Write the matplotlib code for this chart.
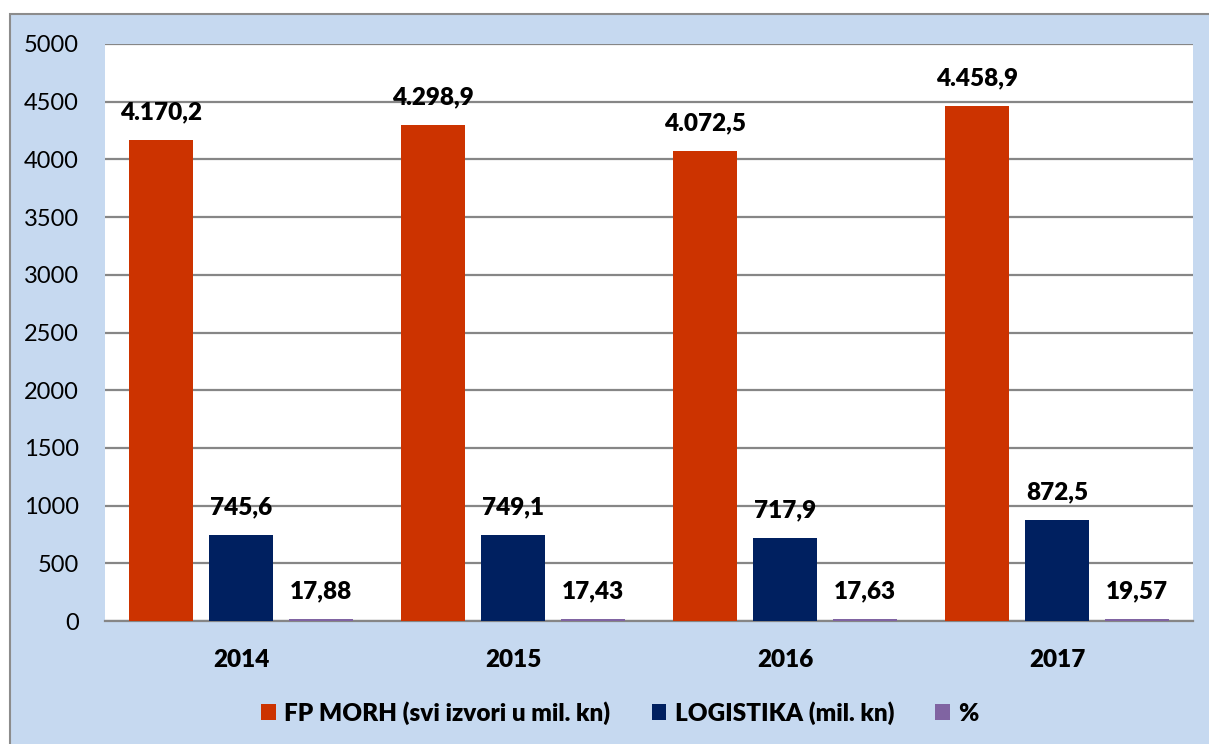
"""Grouped bar chart: FP MORH vs LOGISTIKA budget by year."""

import matplotlib

matplotlib.use("Agg")
import matplotlib.pyplot as plt
from matplotlib.patches import Rectangle
import numpy as np

plt.rcParams["font.family"] = ["Lato", "DejaVu Sans"]

years = ["2014", "2015", "2016", "2017"]
fp_morh = [4170.2, 4298.9, 4072.5, 4458.9]
logistika = [745.6, 749.1, 717.9, 872.5]
postotak = [17.88, 17.43, 17.63, 19.57]

fp_labels = ["4.170,2", "4.298,9", "4.072,5", "4.458,9"]
log_labels = ["745,6", "749,1", "717,9", "872,5"]
pct_labels = ["17,88", "17,43", "17,63", "19,57"]

series_names = ["FP MORH (svi izvori u mil. kn)", "LOGISTIKA (mil. kn)", "%"]
colors = ["#CC3300", "#002060", "#8064A2"]
y_ticks = [0, 500, 1000, 1500, 2000, 2500, 3000, 3500, 4000, 4500, 5000]

BOLD = 800  # Lato ExtraBold, closer to Calibri Bold

W, H = 1209, 744
fig = plt.figure(figsize=(W / 100, H / 100), dpi=100)
fig.patch.set_facecolor("white")

# chart area background with grey frame (runs off right/bottom edge)
fig.add_artist(Rectangle((10 / W, -0.05), 1.05, 1 - 14 / H + 0.05,
                         transform=fig.transFigure, facecolor="#C6D9F0",
                         edgecolor="#8C8C8C", linewidth=1.5, zorder=-10))

ax = fig.add_axes([105 / W, 1 - 621 / H, (1193 - 105) / W, (621 - 44) / H])
ax.set_facecolor("white")

x = np.arange(len(years))
bw = 0.235
step = 0.294
groups = [(fp_morh, fp_labels), (logistika, log_labels), (postotak, pct_labels)]
for k, ((vals, labs), name, col) in enumerate(zip(groups, series_names, colors)):
    pos = x + (k - 1) * step
    bars = ax.bar(pos, vals, width=bw, color=col, label=name, zorder=3)
    for b, lab in zip(bars, labs):
        ax.annotate(lab, (b.get_x() + b.get_width() / 2, b.get_height()),
                    xytext=(0, 12), textcoords="offset points",
                    ha="center", va="bottom", fontsize=17.5, fontweight=BOLD,
                    color="black")

ax.set_xlim(-0.5, len(years) - 0.5)
ax.set_ylim(0, 5000)
ax.set_yticks(y_ticks)
ax.set_yticklabels([str(t) for t in y_ticks], fontsize=17)
ax.set_xticks(x)
ax.set_xticklabels(years, fontsize=17.5, fontweight=BOLD)
ax.tick_params(axis="both", length=0)
ax.tick_params(axis="y", pad=19)
ax.tick_params(axis="x", pad=20)
ax.grid(axis="y", color="#868686", linewidth=1.6, zorder=0)
ax.set_axisbelow(True)
for s in ["left", "right", "top"]:
    ax.spines[s].set_visible(False)
ax.spines["bottom"].set_color("#868686")
ax.spines["bottom"].set_linewidth(1.6)

handles, labels = ax.get_legend_handles_labels()
leg = fig.legend(handles, labels, loc="center", bbox_to_anchor=(620 / W, 1 - 713 / H),
                 ncol=3, frameon=False, prop={"size": 17.5, "weight": BOLD},
                 handlelength=0.6, handleheight=0.6, handletextpad=0.35,
                 columnspacing=1.7)

fig.savefig("out.png", dpi=100)
plt.close(fig)
